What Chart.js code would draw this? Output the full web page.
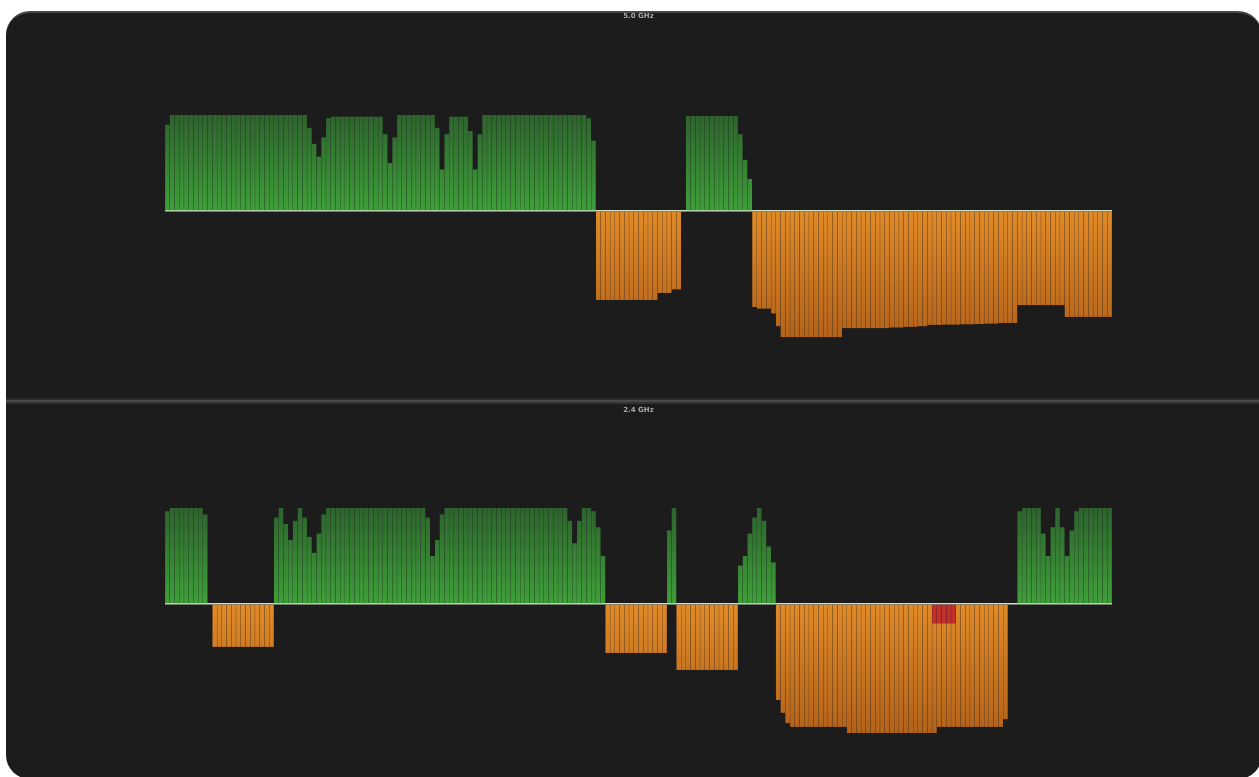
<!DOCTYPE html>
<html>
<head>
<meta charset="utf-8">
<title>Signal 5.0 / 2.4 GHz</title>
<script src="https://cdn.jsdelivr.net/npm/chart.js@4.4.1/dist/chart.umd.min.js"></script>
<style>
html, body { margin: 0; padding: 0; background: #fff; width: 1259px; height: 777px; overflow: hidden; }
#card { position: absolute; left: 6px; top: 11px; width: 1256px; height: 768px; background: #1c1c1c;
        border-radius: 24px; border-top: 2px solid #484848; box-sizing: border-box; }
#divider { position: absolute; left: 6px; top: 398px; width: 1260px; height: 6px;
           background: linear-gradient(#2c2c2c 0, #2c2c2c 33%, #4a4a4a 33%, #4a4a4a 66%, #323232 66%); }
.panel { position: absolute; left: 0; width: 1259px; }
#p5 { top: 0; height: 398px; }
#p24 { top: 400px; height: 377px; }
</style>
</head>
<body>
<div id="card"></div>
<div id="divider"></div>
<div class="panel" id="p5"><canvas id="chart5"></canvas></div>
<div class="panel" id="p24"><canvas id="chart24"></canvas></div>
<script>
// signal margin per sample, 200 samples per band (positive = good, negative = weak)
const signal5 = [
    2.7, 3, 3, 3, 3, 3, 3, 3, 3, 3,
    3, 3, 3, 3, 3, 3, 3, 3, 3, 3,
    3, 3, 3, 3, 3, 3, 3, 3, 3, 3,
    2.6, 2.1, 1.7, 2.3, 2.9, 2.95, 2.95, 2.95, 2.95, 2.95,
    2.95, 2.95, 2.95, 2.95, 2.95, 2.95, 2.4, 1.5, 2.3, 3,
    3, 3, 3, 3, 3, 3, 3, 2.6, 1.3, 2.4,
    2.95, 2.95, 2.95, 2.95, 2.5, 1.3, 2.4, 3, 3, 3,
    3, 3, 3, 3, 3, 3, 3, 3, 3, 3,
    3, 3, 3, 3, 3, 3, 3, 3, 3, 2.9,
    2.2, -2.78, -2.78, -2.78, -2.78, -2.78, -2.78, -2.78, -2.78, -2.78,
    -2.78, -2.78, -2.78, -2.78, -2.56, -2.56, -2.56, -2.45, -2.45, 0,
    2.97, 2.97, 2.97, 2.97, 2.97, 2.97, 2.97, 2.97, 2.97, 2.97,
    2.97, 2.4, 1.6, 1.0, -3.0, -3.05, -3.05, -3.05, -3.2, -3.6,
    -3.94, -3.94, -3.94, -3.94, -3.94, -3.94, -3.94, -3.94, -3.94, -3.94,
    -3.94, -3.94, -3.94, -3.66, -3.66, -3.66, -3.66, -3.66, -3.66, -3.66,
    -3.66, -3.66, -3.66, -3.64, -3.64, -3.64, -3.62, -3.62, -3.62, -3.6,
    -3.6, -3.56, -3.56, -3.56, -3.55, -3.55, -3.55, -3.55, -3.54, -3.54,
    -3.54, -3.53, -3.53, -3.52, -3.52, -3.52, -3.5, -3.5, -3.5, -3.5,
    -2.94, -2.94, -2.94, -2.94, -2.94, -2.94, -2.94, -2.94, -2.94, -2.94,
    -3.31, -3.31, -3.31, -3.31, -3.31, -3.31, -3.31, -3.31, -3.31, -3.31
];

const signal24 = [
    2.9, 3, 3, 3, 3, 3, 3, 3, 2.8, 0,
    -1.34, -1.34, -1.34, -1.34, -1.34, -1.34, -1.34, -1.34, -1.34, -1.34,
    -1.34, -1.34, -1.34, 2.7, 3, 2.5, 2.0, 2.6, 3, 2.7,
    2.1, 1.6, 2.2, 2.8, 3, 3, 3, 3, 3, 3,
    3, 3, 3, 3, 3, 3, 3, 3, 3, 3,
    3, 3, 3, 3, 3, 2.7, 1.5, 2.0, 2.8, 3,
    3, 3, 3, 3, 3, 3, 3, 3, 3, 3,
    3, 3, 3, 3, 3, 3, 3, 3, 3, 3,
    3, 3, 3, 3, 3, 2.6, 1.9, 2.6, 3, 3,
    2.9, 2.4, 1.5, -1.53, -1.53, -1.53, -1.53, -1.53, -1.53, -1.53,
    -1.53, -1.53, -1.53, -1.53, -1.53, -1.53, 2.3, 3.0, -2.06, -2.06,
    -2.06, -2.06, -2.06, -2.06, -2.06, -2.06, -2.06, -2.06, -2.06, -2.06,
    -2.06, 1.2, 1.5, 2.2, 2.7, 3.0, 2.6, 1.8, 1.3, -3.0,
    -3.4, -3.72, -3.84, -3.84, -3.84, -3.84, -3.84, -3.84, -3.84, -3.84,
    -3.84, -3.84, -3.84, -3.84, -4.03, -4.03, -4.03, -4.03, -4.03, -4.03,
    -4.03, -4.03, -4.03, -4.03, -4.03, -4.03, -4.03, -4.03, -4.03, -4.03,
    -4.03, -4.03, -4.03, -3.84, -3.84, -3.84, -3.84, -3.84, -3.84, -3.84,
    -3.84, -3.84, -3.84, -3.84, -3.84, -3.84, -3.84, -3.6, 0, 0,
    2.9, 3, 3, 3, 3, 2.2, 1.5, 2.4, 3, 2.4,
    1.5, 2.3, 2.9, 3, 3, 3, 3, 3, 3, 3
];

// samples flagged as interference on 2.4 GHz, and how deep the flag goes
const alert24 = [162, 163, 164, 165, 166];
const alertDepth24 = -0.6;

const samples = signal5.map((v, i) => i + 1);

function gradient(ctx, far, near, farValue) {
    const chart = ctx.chart;
    if (!chart.chartArea) return near;
    const y = chart.scales.y;
    const g = chart.ctx.createLinearGradient(0, y.getPixelForValue(farValue), 0, y.getPixelForValue(0));
    g.addColorStop(0, far);
    g.addColorStop(1, near);
    return g;
}

function makeChart(id, title, values, alerts, alertDepth, yMin, titlePad, bottomPad) {
    const good = values.map(v => v > 0 ? v : null);
    const flagged = values.map((v, i) => alerts.includes(i) ? alertDepth : null);
    const weak = values.map((v, i) => v < 0 ? (alerts.includes(i) ? v - alertDepth : v) : null);
    const bar = { categoryPercentage: 1, barPercentage: 0.95, borderWidth: 0 };

    new Chart(document.getElementById(id), {
        type: 'bar',
        data: {
            labels: samples,
            datasets: [
                Object.assign({ data: good, backgroundColor: c => gradient(c, '#2d632d', '#3f9f3a', 3) }, bar),
                Object.assign({ data: flagged, backgroundColor: '#c3302b' }, bar),
                Object.assign({ data: weak, backgroundColor: c => gradient(c, '#b3621a', '#e08a28', -4) }, bar)
            ]
        },
        options: {
            animation: false,
            responsive: true,
            maintainAspectRatio: false,
            layout: { padding: { left: 165, right: 147, top: 0, bottom: bottomPad } },
            plugins: {
                legend: { display: false },
                tooltip: { enabled: false },
                title: {
                    display: true,
                    text: title,
                    color: '#a8a8a8',
                    font: { size: 7, family: 'DejaVu Sans', weight: 'bold' },
                    padding: titlePad
                }
            },
            scales: {
                x: { display: false, stacked: true },
                y: {
                    stacked: true,
                    min: yMin,
                    max: 5,
                    z: 1,
                    border: { display: false },
                    ticks: { display: false },
                    afterBuildTicks: s => { s.ticks = [{ value: 0 }]; },
                    grid: { drawTicks: false, color: '#cfe0c4', lineWidth: 1.5 }
                }
            }
        }
    });
}

makeChart('chart5', '5.0 GHz', signal5, [], 0, -5.5, { top: 12, bottom: 30.6 }, 11);
makeChart('chart24', '2.4 GHz', signal24, alert24, alertDepth24, -5, { top: 6, bottom: 29.6 }, 13);
</script>
</body>
</html>
